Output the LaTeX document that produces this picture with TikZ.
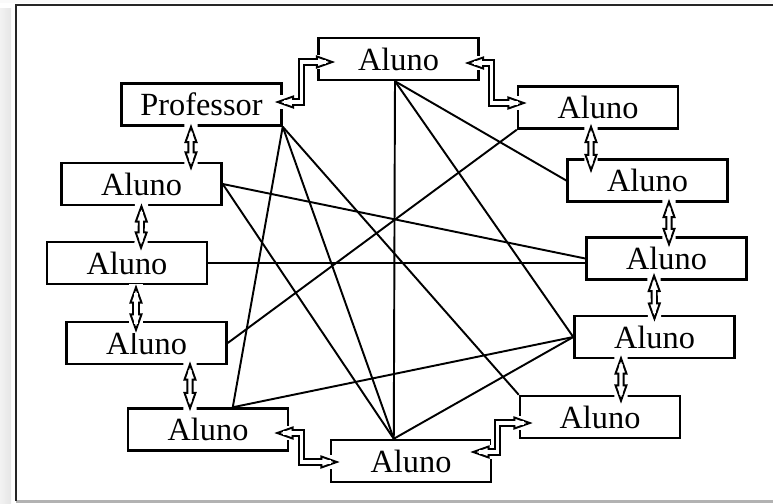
\documentclass[tikz,border=0pt]{standalone}
\usepackage{fontspec}
\setmainfont{Liberation Serif}
\usetikzlibrary{arrows.meta}

\begin{document}
\begin{tikzpicture}[auto,scale=1.0]
        \tikzstyle{person}=[rectangle,draw,line width=1.4pt,minimum width=3.2cm,minimum height=0.84cm,inner sep=0pt,font=\fontsize{18.4}{20}\selectfont]
        \tikzstyle{tie}=[line width=1.1pt]
        \tikzstyle{link}=[line width=4pt,{Triangle[fill=white,length=11pt,width=7.5pt,line width=1.1pt]}-{Triangle[fill=white,length=11pt,width=7.5pt,line width=1.1pt]},
            preaction={draw=white,line width=7.5pt,-},
            postaction={draw=white,line width=1.8pt,-,shorten <=5pt,shorten >=5pt}]
        \useasboundingbox (0, 0) rectangle (15.46, 10.06);
        \fill [gray!4] (0, 10) rectangle (15.46, 10.06);
        \shade [left color=gray!10,middle color=gray!55,right color=gray!20] (0, 0) rectangle (0.22, 9.9);
        \fill [gray!60] (0.32, 0) rectangle (15.46, 0.07);
        \draw [line width=0.75pt,black!85] (15.46, 9.96) -- (0.32, 9.96) -- (0.32, 0.05);
        \node [person] (prof) at (4.03, 7.97) {Professor};
        \node [person] (top) at (7.97, 8.88) {Aluno};
        \node [person] (right1) at (11.96, 7.91) {Aluno};
        \node [person] (right2) at (12.95, 6.45) {Aluno};
        \node [person] (right3) at (13.33, 4.89) {Aluno};
        \node [person] (right4) at (13.09, 3.32) {Aluno};
        \node [person] (right5) at (12.00, 1.72) {Aluno};
        \node [person] (bottom) at (8.22, 0.84) {Aluno};
        \node [person] (botleft) at (4.16, 1.47) {Aluno};
        \node [person] (left3) at (2.93, 3.20) {Aluno};
        \node [person] (left2) at (2.54, 4.80) {Aluno};
        \node [person] (left1) at (2.83, 6.38) {Aluno};
        \coordinate (toptip) at ([xshift=-0.07cm]top.south);
        \coordinate (bottip) at ([xshift=1.28cm]bottom.north west);
        \coordinate (bltip) at ([xshift=2.12cm]botleft.north west);
        \draw [tie] (prof.south east) -- (bltip);
        \draw [tie] (prof.south east) -- (bottip);
        \draw [tie] (prof.south east) -- (right5.north west);
        \draw [tie] (toptip) -- (bottip);
        \draw [tie] (toptip) -- (right2.west);
        \draw [tie] (toptip) -- (right4.west);
        \draw [tie] (left1.east) -- (right3.west);
        \draw [tie] (left1.east) -- (bottip);
        \draw [tie] (left2.east) -- (left2.east -| right3.west);
        \draw [tie] (left3.east) -- (right1.south west);
        \draw [tie] (bltip) -- (right4.west);
        \draw [tie] (bottip) -- (right4.west);
        \draw [link] ([xshift=-0.21cm,yshift=0.06cm]prof.south) -- ([xshift=0.99cm,yshift=-0.18cm]left1.north);
        \draw [link] ([yshift=0.06cm]left1.south) -- ([xshift=0.28cm,yshift=-0.2cm]left2.north);
        \draw [link] ([xshift=0.18cm,yshift=0.02cm]left2.south) -- ([xshift=-0.21cm,yshift=-0.24cm]left3.north);
        \draw [link] ([xshift=0.87cm,yshift=0.08cm]left3.south) -- ([xshift=-0.36cm,yshift=-0.08cm]botleft.north);
        \draw [link] ([xshift=-0.14cm,yshift=0.12cm]right1.south) -- ([xshift=-1.13cm,yshift=-0.3cm]right2.north);
        \draw [link] ([xshift=0.43cm,yshift=0.08cm]right2.south) -- ([xshift=0.05cm,yshift=-0.22cm]right3.north);
        \draw [link] ([xshift=-0.25cm,yshift=0.16cm]right3.south) -- ([yshift=-0.14cm]right4.north);
        \draw [link] ([xshift=-0.67cm,yshift=0.08cm]right4.south) -- ([xshift=0.42cm,yshift=-0.18cm]right5.north);
        \draw [link] ([xshift=-0.16cm,yshift=0.05cm]prof.east) -- ++(0.54, 0) |- ([xshift=0.36cm,yshift=-0.06cm]top.west);
        \draw [link] ([xshift=-0.3cm,yshift=-0.08cm]top.east) -- ++(0.54, 0) |- ([xshift=0.2cm,yshift=0.09cm]right1.west);
        \draw [link] ([xshift=-0.3cm,yshift=-0.07cm]botleft.east) -- ++(0.54, 0) |- ([xshift=0.2cm,yshift=-0.02cm]bottom.west);
        \draw [link] ([xshift=-0.44cm,yshift=0.18cm]bottom.east) -- ++(0.54, 0) |- ([xshift=0.28cm,yshift=-0.12cm]right5.west);
    \end{tikzpicture}
\end{document}
